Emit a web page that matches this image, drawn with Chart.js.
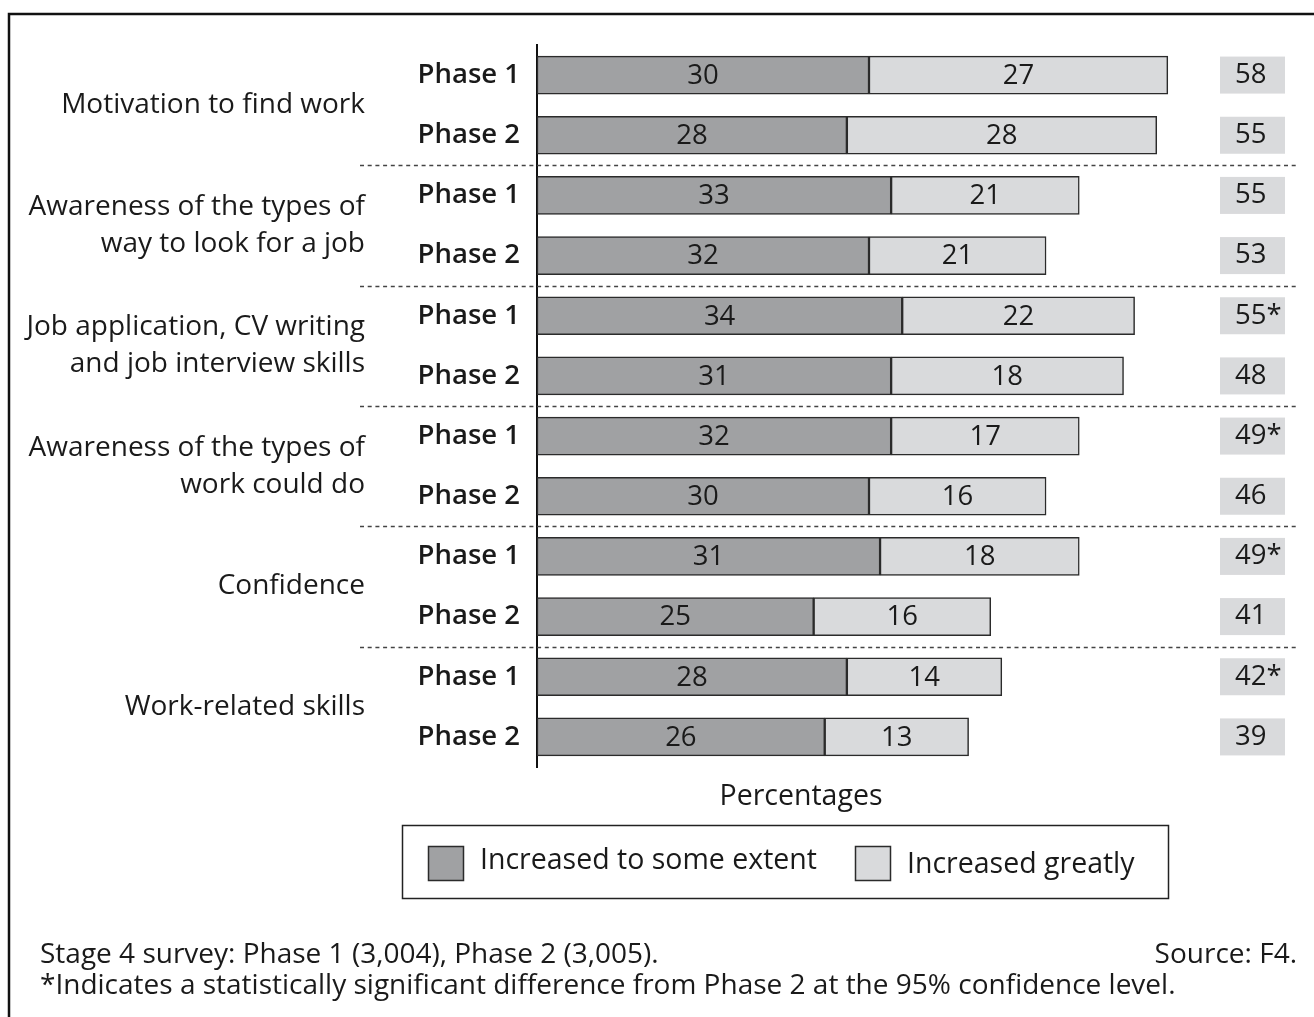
<!DOCTYPE html>
<html>
<head>
<meta charset="utf-8">
<title>Increase in work readiness</title>
<script src="https://cdn.jsdelivr.net/npm/chart.js@4.4.1/dist/chart.umd.min.js"></script>
<style>
  html, body { margin: 0; padding: 0; background: #fff; }
  canvas { display: block; }
</style>
</head>
<body>
<canvas id="chart" width="1314" height="1017"></canvas>
<script>
// group labels (one entry per group, lines split)
const groups = [
    ['Motivation to find work'],
    ['Awareness of the types of', 'way to look for a job'],
    ['Job application, CV writing', 'and job interview skills'],
    ['Awareness of the types of', 'work could do'],
    ['Confidence'],
    ['Work-related skills']
];
const phases = ['Phase 1', 'Phase 2'];

// bar lengths as drawn in the picture
const someExtent = [30, 28, 32, 30, 33, 32, 32, 30, 31, 25, 28, 26];
const greatly    = [27, 28, 17, 16, 21, 21, 17, 16, 18, 16, 14, 13];

// numbers printed on the bars
const someLabels  = ['30', '28', '33', '32', '34', '31', '32', '30', '31', '25', '28', '26'];
const greatLabels = ['27', '28', '21', '21', '22', '18', '17', '16', '18', '16', '14', '13'];

// totals column
const totals = ['58', '55', '55', '53', '55*', '48', '49*', '46', '49*', '41', '42*', '39'];

const seriesNames = ['Increased to some extent', 'Increased greatly'];
const footNotes = [
    'Stage 4 survey: Phase 1 (3,004), Phase 2 (3,005).',
    '*Indicates a statistically significant difference from Phase 2 at the 95% confidence level.'
];
const sourceText = 'Source: F4.';

const rowLabels = [];
groups.forEach(() => phases.forEach(p => rowLabels.push(p)));

const FONT = "'Open Sans', sans-serif";
const TXT = '#1a1a1a';
const DARK = '#a0a1a3';
const LIGHT = '#d9dadc';
const EDGE = '#2b2b2b';

Chart.defaults.font.family = FONT;
Chart.defaults.color = TXT;

const extras = {
    id: 'extras',
    afterDatasetsDraw(chart) {
        const ctx = chart.ctx;
        const labelSets = [someLabels, greatLabels];
        ctx.save();
        ctx.font = '27.5px ' + FONT;
        ctx.fillStyle = TXT;
        ctx.textAlign = 'center';
        ctx.textBaseline = 'middle';
        chart.data.datasets.forEach((ds, d) => {
            const meta = chart.getDatasetMeta(d);
            meta.data.forEach((bar, i) => {
                const p = bar.getProps(['x', 'base', 'y'], true);
                ctx.fillText(labelSets[d][i], (p.x + p.base) / 2, p.y + 1);
            });
        });
        ctx.restore();
    },
    afterDraw(chart) {
        const ctx = chart.ctx;
        const bars = chart.getDatasetMeta(0).data;
        const yOf = i => bars[i].y;
        ctx.save();

        // frame
        ctx.strokeStyle = '#111';
        ctx.lineWidth = 2.5;
        ctx.beginPath();
        ctx.moveTo(9, 1017);
        ctx.lineTo(9, 14);
        ctx.lineTo(1314, 14);
        ctx.stroke();

        // group labels
        ctx.fillStyle = TXT;
        ctx.font = '28px ' + FONT;
        ctx.textAlign = 'right';
        ctx.textBaseline = 'middle';
        groups.forEach((lines, g) => {
            const cy = (yOf(2 * g) + yOf(2 * g + 1)) / 2;
            const lh = 37;
            lines.forEach((ln, k) => {
                ctx.fillText(ln, 365, cy + (k - (lines.length - 1) / 2) * lh);
            });
        });

        // dashed separators
        ctx.strokeStyle = '#444';
        ctx.lineWidth = 1.5;
        ctx.setLineDash([4, 3.7]);
        for (let g = 0; g < groups.length - 1; g++) {
            const y = Math.round((yOf(2 * g + 1) + yOf(2 * g + 2)) / 2) + 0.5;
            ctx.beginPath();
            ctx.moveTo(360, y);
            ctx.lineTo(1298, y);
            ctx.stroke();
        }
        ctx.setLineDash([]);

        // totals column
        ctx.font = '27.5px ' + FONT;
        ctx.textAlign = 'left';
        totals.forEach((t, i) => {
            const y = yOf(i);
            ctx.fillStyle = LIGHT;
            ctx.fillRect(1220, y - 18.5, 65, 37);
            ctx.fillStyle = TXT;
            ctx.fillText(t, 1235, y);
        });

        // axis title
        ctx.font = '500 28.5px ' + FONT;
        ctx.textAlign = 'center';
        ctx.fillText('Percentages', 801, 797);

        // legend
        ctx.strokeStyle = '#222';
        ctx.lineWidth = 1.5;
        ctx.strokeRect(402.5, 825.5, 766, 73);
        const sw = [[428, DARK, 480], [855, LIGHT, 907]];
        ctx.font = '28.5px ' + FONT;
        ctx.textAlign = 'left';
        sw.forEach(([x, col, tx], k) => {
            ctx.fillStyle = col;
            ctx.fillRect(x, 846, 36, 35);
            ctx.strokeStyle = EDGE;
            ctx.strokeRect(x + 0.5, 846.5, 35, 34);
            ctx.fillStyle = TXT;
            ctx.fillText(seriesNames[k], tx, k === 0 ? 861 : 865);
        });

        // footnotes
        ctx.font = '28px ' + FONT;
        ctx.fillText(footNotes[0], 40, 955);
        ctx.fillText(footNotes[1], 40, 986);
        ctx.textAlign = 'right';
        ctx.fillText(sourceText, 1297, 955);
        ctx.restore();
    }
};

new Chart(document.getElementById('chart').getContext('2d'), {
    type: 'bar',
    data: {
        labels: rowLabels,
        datasets: [{
            label: seriesNames[0],
            data: someExtent,
            backgroundColor: DARK,
            borderColor: EDGE,
            borderWidth: 1.5,
            borderSkipped: false,
            barThickness: 38
        }, {
            label: seriesNames[1],
            data: greatly,
            backgroundColor: LIGHT,
            borderColor: EDGE,
            borderWidth: 1.5,
            borderSkipped: false,
            barThickness: 38
        }]
    },
    options: {
        indexAxis: 'y',
        responsive: false,
        animation: false,
        layout: {
            padding: { top: 45, bottom: 250, left: 0, right: 113 }
        },
        scales: {
            x: {
                stacked: true,
                min: 0,
                max: 60,
                display: false
            },
            y: {
                stacked: true,
                grid: { display: false },
                border: { display: true, color: '#111', width: 2 },
                ticks: {
                    padding: 9,
                    color: TXT,
                    font: { size: 27.5, weight: '600' }
                },
                afterFit: (s) => { s.width = 537; }
            }
        },
        plugins: {
            legend: { display: false },
            tooltip: { enabled: false }
        }
    },
    plugins: [extras]
});
</script>
</body>
</html>
